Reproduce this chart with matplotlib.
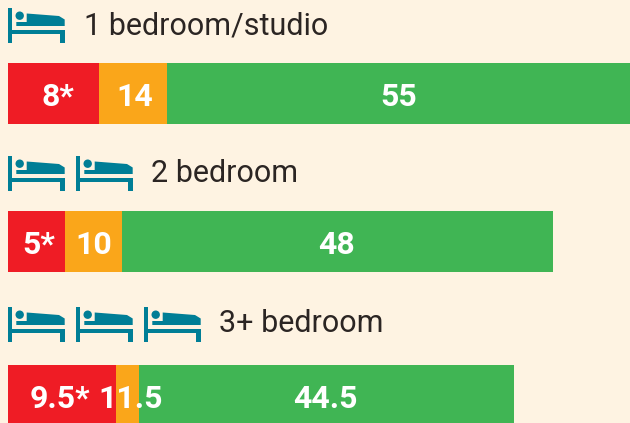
#!/usr/bin/env python

import matplotlib
matplotlib.use("Agg")
import matplotlib.pyplot as plt
from matplotlib.patches import Circle, Polygon, Rectangle

# labels in the picture are running totals, bars run from one total to the next
rows = ["1 bedroom/studio", "2 bedroom", "3+ bedroom"]
bed_counts = [1, 2, 3]
red_values = [8, 5, 9.5]
orange_values = [14, 10, 11.5]
green_values = [55, 48, 44.5]
red_labels = ["8*", "5*", "9.5*"]
orange_labels = ["14", "10", "11.5"]
green_labels = ["55", "48", "44.5"]

BG = "#fef3e2"
RED = "#ef1c25"
ORANGE = "#faa61a"
GREEN = "#40b554"
TEAL = "#007e96"
INK = "#2b2523"
FONT = "Roboto"

W, H = 630, 423
UNIT = 11.36  # pixels per value unit
bar_top = [63, 211, 365]
bar_h = 61
bed_top = [8, 156, 307]
title_y = [26, 174, 324]
title_x = [84, 151, 219]

# label nudges in pixels, the original labels are not quite centred
red_shift = [4, 2, -2]
orange_shift = [2, 1, 3]
green_shift = [-1, -1, -1]


def draw_bed(ax, x, y):
    ax.add_patch(Rectangle((x, y), 4.3, 35, color=TEAL, lw=0))
    ax.add_patch(Rectangle((x + 52, y + 22), 4.7, 13, color=TEAL, lw=0))
    ax.add_patch(Rectangle((x, y + 22), 56.7, 4, color=TEAL, lw=0))
    ax.add_patch(Circle((x + 11.7, y + 7.7), 4.2, color=TEAL, lw=0))
    ax.add_patch(Polygon([(x + 8.3, y + 14), (x + 18.7, y + 14), (x + 18.7, y + 5.5),
                          (x + 51, y + 8), (x + 56.7, y + 11.5), (x + 56.7, y + 18),
                          (x + 8.3, y + 18)], color=TEAL, lw=0))


fig = plt.figure(figsize=(W / 100, H / 100), dpi=100, facecolor=BG)

# bars axes, x in data units
ax = fig.add_axes([0, 0, 1, 1])
ax.set_facecolor(BG)
ax.set_xlim(-8 / UNIT, (W - 8) / UNIT)
ax.set_ylim(H, 0)
ax.axis("off")

centres = [t + bar_h / 2 for t in bar_top]
for i in range(3):
    ax.barh(centres[i], red_values[i], height=bar_h, color=RED, lw=0)
    ax.barh(centres[i], orange_values[i] - red_values[i], left=red_values[i],
            height=bar_h, color=ORANGE, lw=0)
    ax.barh(centres[i], green_values[i] - orange_values[i], left=orange_values[i],
            height=bar_h, color=GREEN, lw=0)

    kw = dict(color="white", fontsize=23, fontweight="bold", family=FONT,
              ha="center", va="center")
    ty = centres[i] + 3
    ax.text(red_values[i] / 2 + red_shift[i] / UNIT, ty, red_labels[i], **kw)
    ax.text((red_values[i] + orange_values[i]) / 2 + orange_shift[i] / UNIT, ty,
            orange_labels[i], **kw)
    ax.text((orange_values[i] + green_values[i]) / 2 + green_shift[i] / UNIT, ty,
            green_labels[i], **kw)

# icons and headings in pixels
ov = fig.add_axes([0, 0, 1, 1])
ov.patch.set_alpha(0)
ov.set_xlim(0, W)
ov.set_ylim(H, 0)
ov.axis("off")

for i in range(3):
    for n in range(bed_counts[i]):
        draw_bed(ov, 8 + 68 * n, bed_top[i])
    ov.text(title_x[i], title_y[i], rows[i], color=INK, fontsize=22, family=FONT,
            ha="left", va="center")

fig.savefig("out.png", dpi=100, facecolor=BG)
